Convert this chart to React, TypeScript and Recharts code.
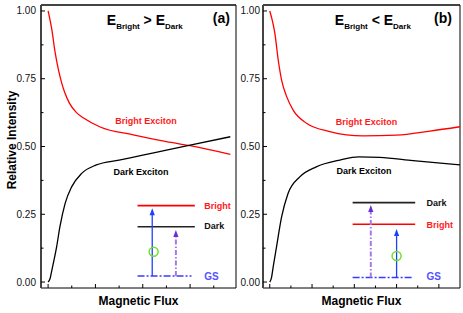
import React from 'react';
import { ComposedChart, Line, XAxis, YAxis, ReferenceLine, ReferenceDot } from 'recharts';

const FONT = "Arial, 'Liberation Sans', sans-serif";

// panel (a): E_Bright > E_Dark
const BRIGHT_A_X = [0, 0.08, 0.15, 0.22, 0.29, 0.35, 0.45, 0.6, 0.75, 1.1, 1.8, 2.5, 3.0, 3.85];
const BRIGHT_A_Y = [1.0, 0.93, 0.845, 0.782, 0.733, 0.7, 0.66, 0.625, 0.605, 0.572, 0.543, 0.518, 0.503, 0.471];
const DARK_A_X = [0, 0.04, 0.08, 0.13, 0.18, 0.25, 0.36, 0.5, 0.71, 1.02, 1.5, 2.0, 2.5, 3.0, 3.85];
const DARK_A_Y = [0, 0.012, 0.044, 0.085, 0.13, 0.204, 0.29, 0.352, 0.401, 0.432, 0.45, 0.468, 0.487, 0.505, 0.536];

// panel (b): E_Bright < E_Dark
const BRIGHT_B_X = [0, 0.06, 0.12, 0.2, 0.28, 0.4, 0.55, 0.87, 1.42, 2.21, 3.0, 3.79, 4.5];
const BRIGHT_B_Y = [1.0, 0.965, 0.918, 0.819, 0.745, 0.684, 0.635, 0.586, 0.555, 0.539, 0.542, 0.557, 0.573];
const DARK_B_X = [0, 0.04, 0.08, 0.16, 0.28, 0.43, 0.71, 1.1, 1.66, 2.1, 2.6, 3.39, 4.5];
const DARK_B_Y = [0, 0.015, 0.055, 0.13, 0.24, 0.326, 0.388, 0.425, 0.45, 0.462, 0.46, 0.448, 0.432];

// inset level diagrams: names top to bottom, level heights, horizontal span
const LEVEL_NAMES_A = ['Bright', 'Dark', 'GS'];
const LEVEL_Y_A = [0.282, 0.204, 0.022];
const LEVEL_SPAN_A = [1.89, 3.1, 3.03];
const ARROW_X_A = [2.2, 2.7]; // solid blue, dash-dot purple
const ARROW_TIP_A = [0.272, 0.192];
const CIRCLE_A = [2.23, 0.112];
const LABEL_X_A = 3.3;
const LABEL_Y_A = [0.271, 0.194, 0.009];

const LEVEL_NAMES_B = ['Dark', 'Bright', 'GS'];
const LEVEL_Y_B = [0.293, 0.213, 0.017];
const LEVEL_SPAN_B = [1.96, 3.44, 3.39];
const ARROW_X_B = [3.0, 2.39];
const ARROW_TIP_B = [0.196, 0.284];
const CIRCLE_B = [3.0, 0.096];
const LABEL_X_B = 3.71;
const LABEL_Y_B = [0.282, 0.201, 0.006];

const Y_TICKS = [0, 0.125, 0.25, 0.375, 0.5, 0.625, 0.75, 0.875, 1];
const Y_LABELS = [0, 0.25, 0.5, 0.75, 1];
const X_TICKS_A = [0, 0.5, 1, 1.5, 2, 2.5, 3, 3.5];
const X_TICKS_B = [0, 0.5, 1, 1.5, 2, 2.5, 3, 3.5, 4];
const Y_DOMAIN: [number, number] = [-0.022, 1.022];
const X_DOMAIN_A: [number, number] = [-0.15, 3.97];
const X_DOMAIN_B: [number, number] = [-0.16, 4.5];

const LEVEL_COLOR: Record<string, string> = { Bright: '#ff0000', Dark: '#222222', GS: '#3a3aff' };
const LABEL_COLOR: Record<string, string> = { Bright: '#ff1a1a', Dark: '#111111', GS: '#5252ff' };

const zip = (xs: number[], ys: number[]) => xs.map((x, i) => ({ x, y: ys[i] }));

const yTick = (gap: number) => (props: any) => {
  const { x, y, payload } = props;
  const major = Y_LABELS.includes(payload.value);
  const ax = x + gap;
  return (
    <g>
      <line x1={ax} x2={ax + (major ? 4 : 2.5)} y1={y} y2={y} stroke="#000" />
      {major && (
        <text x={x} y={y + 3.5} textAnchor="end" fontSize={10} fill="#111" fontFamily={FONT}>
          {payload.value.toFixed(2)}
        </text>
      )}
    </g>
  );
};

const xTick = (props: any) => {
  const { x, y, payload } = props;
  const major = Number.isInteger(payload.value);
  return <line x1={x} x2={x} y1={y} y2={y - (major ? 4 : 2.5)} stroke="#000" />;
};

const arrowShape = (color: string, head: string, width: number, dash?: string) => (p: any) => {
  const { x1, y1, x2, y2 } = p;
  const h = 7;
  return (
    <g>
      <line x1={x1} y1={y1} x2={x2} y2={y2 + h - 1} stroke={color} strokeWidth={width} strokeDasharray={dash} />
      <polygon points={`${x2},${y2} ${x2 - 2.6},${y2 + h} ${x2 + 2.6},${y2 + h}`} fill={head} />
    </g>
  );
};

const textShape = (text: string, color: string, size: number, anchor = 'start') => (p: any) => (
  <text x={p.cx} y={p.cy} fill={color} fontSize={size} fontWeight="bold" fontFamily={FONT} textAnchor={anchor}>
    {text}
  </text>
);

const titleShape = (sign: string) => (p: any) => (
  <text x={p.cx} y={p.cy} fill="#000" fontWeight="bold" fontFamily={FONT} fontSize={14}>
    <tspan>E</tspan>
    <tspan fontSize={8} dy={4.3}>Bright</tspan>
    <tspan fontSize={14} dy={-4.3}>{` ${sign} `}</tspan>
    <tspan>E</tspan>
    <tspan fontSize={8} dy={4.3}>Dark</tspan>
  </text>
);

interface PanelProps {
  width: number;
  margin: { top: number; right: number; bottom: number; left: number };
  yAxisWidth: number;
  tickGap: number;
  xDomain: [number, number];
  xTicks: number[];
  bright: { x: number; y: number }[];
  dark: { x: number; y: number }[];
  names: string[];
  levels: number[];
  span: number[];
  arrowX: number[];
  arrowTip: number[];
  circle: number[];
  labelX: number;
  labelY: number[];
  sign: string;
  titleX: number;
  tag: string;
  tagX: number;
  brightLabel: number[];
  darkLabel: number[];
  showYLabel?: boolean;
}

const Panel: React.FC<PanelProps> = (p) => {
  const gs = p.levels[2];
  return (
    <ComposedChart width={p.width} height={313} margin={p.margin} style={{ fontFamily: FONT }}>
      <XAxis
        type="number"
        dataKey="x"
        domain={p.xDomain}
        ticks={p.xTicks}
        interval={0}
        height={25}
        tickSize={0}
        tickMargin={0}
        tickLine={false}
        axisLine={{ stroke: '#000', strokeWidth: 1 }}
        tick={xTick}
        label={(lp: any) => {
          const vb = lp.viewBox || { x: 0, y: 288, width: p.width, height: 25 };
          return (
            <text x={vb.x + vb.width / 2} y={vb.y + 16.5} textAnchor="middle" fontSize={12} fontWeight="bold" fontFamily={FONT} fill="#000">
              Magnetic Flux
            </text>
          );
        }}
      />
      <YAxis
        type="number"
        domain={Y_DOMAIN}
        ticks={Y_TICKS}
        interval={0}
        width={p.yAxisWidth}
        tickSize={0}
        tickMargin={p.tickGap}
        tickLine={false}
        axisLine={{ stroke: '#444', strokeWidth: 2 }}
        tick={yTick(p.tickGap)}
        label={
          p.showYLabel
            ? (lp: any) => {
                const vb = lp.viewBox || { x: 0, y: 5, width: 41, height: 283 };
                const cx = vb.x + 12;
                const cy = vb.y + vb.height / 2 - 6.5;
                return (
                  <text x={cx} y={cy} transform={`rotate(-90 ${cx} ${cy})`} textAnchor="middle" dominantBaseline="central" fontSize={12} fontWeight="bold" fontFamily={FONT} fill="#000">
                    Relative Intensity
                  </text>
                );
              }
            : undefined
        }
      />
      <ReferenceLine y={Y_DOMAIN[1]} stroke="#444" strokeWidth={2} ifOverflow="visible" />
      <ReferenceLine x={p.xDomain[1]} stroke="#000" strokeWidth={1} ifOverflow="visible" />

      <Line data={p.bright} dataKey="y" type="monotone" stroke="#ff0000" strokeWidth={1.3} dot={false} isAnimationActive={false} />
      <Line data={p.dark} dataKey="y" type="monotone" stroke="#000000" strokeWidth={1.3} dot={false} isAnimationActive={false} />

      {/* energy levels */}
      <ReferenceLine segment={[{ x: p.span[0], y: p.levels[0] }, { x: p.span[1], y: p.levels[0] }]} stroke={LEVEL_COLOR[p.names[0]]} strokeWidth={1.6} />
      <ReferenceLine segment={[{ x: p.span[0], y: p.levels[1] }, { x: p.span[1], y: p.levels[1] }]} stroke={LEVEL_COLOR[p.names[1]]} strokeWidth={1.6} />
      <ReferenceLine segment={[{ x: p.span[0], y: gs }, { x: p.span[2], y: gs }]} stroke={LEVEL_COLOR.GS} strokeWidth={1.6} strokeDasharray="7 2 2 2" />

      {/* excitation arrows */}
      <ReferenceLine segment={[{ x: p.arrowX[0], y: gs }, { x: p.arrowX[0], y: p.arrowTip[0] }]} shape={arrowShape('#1f3fff', '#1f3fff', 1.3)} />
      <ReferenceLine segment={[{ x: p.arrowX[1], y: gs }, { x: p.arrowX[1], y: p.arrowTip[1] }]} shape={arrowShape('#a47be6', '#6a2ed6', 2, '5 2 1.5 2')} />
      <ReferenceDot x={p.circle[0]} y={p.circle[1]} r={4.5} fill="none" stroke="#6fe02a" strokeWidth={1.5} />

      {p.names.map((n, i) => (
        <ReferenceDot key={n} x={p.labelX} y={p.labelY[i]} r={0} shape={textShape(n, LABEL_COLOR[n], n === 'GS' ? 10 : 9)} />
      ))}

      <ReferenceDot x={p.brightLabel[0]} y={p.brightLabel[1]} r={0} shape={textShape('Bright Exciton', '#ff1a1a', 9)} />
      <ReferenceDot x={p.darkLabel[0]} y={p.darkLabel[1]} r={0} shape={textShape('Dark Exciton', '#000', 9)} />

      <ReferenceDot x={p.titleX} y={0.948} r={0} shape={titleShape(p.sign)} />
      <ReferenceDot x={p.tagX} y={0.955} r={0} shape={textShape(p.tag, '#000', 14, 'end')} />
    </ComposedChart>
  );
};

export default function App() {
  return (
    <div style={{ position: 'absolute', left: 0, top: 0, width: 463, height: 313, background: '#fff', fontFamily: FONT }}>
      <div style={{ position: 'absolute', left: 0, top: 0 }}>
        <Panel
          width={240}
          margin={{ top: 5, right: 4, bottom: 0, left: 0 }}
          yAxisWidth={41}
          tickGap={5}
          xDomain={X_DOMAIN_A}
          xTicks={X_TICKS_A}
          bright={zip(BRIGHT_A_X, BRIGHT_A_Y)}
          dark={zip(DARK_A_X, DARK_A_Y)}
          names={LEVEL_NAMES_A}
          levels={LEVEL_Y_A}
          span={LEVEL_SPAN_A}
          arrowX={ARROW_X_A}
          arrowTip={ARROW_TIP_A}
          circle={CIRCLE_A}
          labelX={LABEL_X_A}
          labelY={LABEL_Y_A}
          sign=">"
          titleX={1.24}
          tag="(a)"
          tagX={3.84}
          brightLabel={[1.42, 0.583]}
          darkLabel={[1.38, 0.395]}
          showYLabel
        />
      </div>
      <div style={{ position: 'absolute', left: 240, top: 0 }}>
        <Panel
          width={223}
          margin={{ top: 5, right: 3, bottom: 0, left: 0 }}
          yAxisWidth={23}
          tickGap={3}
          xDomain={X_DOMAIN_B}
          xTicks={X_TICKS_B}
          bright={zip(BRIGHT_B_X, BRIGHT_B_Y)}
          dark={zip(DARK_B_X, DARK_B_Y)}
          names={LEVEL_NAMES_B}
          levels={LEVEL_Y_B}
          span={LEVEL_SPAN_B}
          arrowX={ARROW_X_B}
          arrowTip={ARROW_TIP_B}
          circle={CIRCLE_B}
          labelX={LABEL_X_B}
          labelY={LABEL_Y_B}
          sign="<"
          titleX={1.54}
          tag="(b)"
          tagX={4.31}
          brightLabel={[1.56, 0.581]}
          darkLabel={[1.58, 0.399]}
        />
      </div>
    </div>
  );
}
